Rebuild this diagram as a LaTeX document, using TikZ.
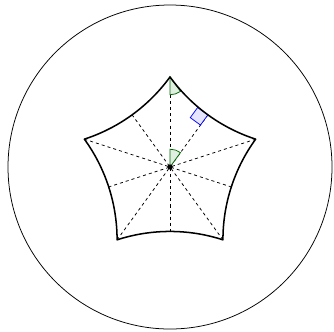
\documentclass[tikz,border=0pt]{standalone}
\usetikzlibrary{calc}
\tikzset{
  edge/.style={thick, line join=round},
  guide/.style={dash pattern=on 1.6pt off 1.6pt},
  anglemark/.style={draw=green!40!black, fill=green!50!black!12},
  rightmark/.style={draw=blue, fill=blue!10},
}
\begin{document}
\begin{tikzpicture}[scale=3]
\useasboundingbox (-1.0494,-1.0123) rectangle (1.0123,1.0309);
\coordinate (O) at (0,0);
\draw (O) circle[radius=1];
\foreach \k in {0,...,4}{
  \coordinate (v\k) at ({90-72*\k}:0.556);
  \coordinate (m\k) at ({54-72*\k}:0.398);
}
% guides
\foreach \a/\b in {0/2,1/3,2/4,3/0,4/1}{
  \draw[guide] (v\a) -- (m\b);
}
% marks
\draw[rightmark] (m0) -- ($(m0)+(234:0.078)$) -- ($(m0)+(234:0.078)+(144:0.078)$) -- ($(m0)+(144:0.078)$) -- cycle;
\draw[anglemark] (v0) -- ++(-90:0.11) arc[start angle=-90, end angle=-54, radius=0.11] -- cycle;
\draw[anglemark] (O) -- ++(90:0.11) arc[start angle=90, end angle=54, radius=0.11] -- cycle;
% pentagon
\draw[edge] (v0) arc[start angle=216, end angle=252, radius=1.0572]
  arc[start angle=144, end angle=180, radius=1.0572]
  arc[start angle=72, end angle=108, radius=1.0572]
  arc[start angle=0, end angle=36, radius=1.0572]
  arc[start angle=-72, end angle=-36, radius=1.0572] -- cycle;
\fill (O) circle[radius=0.016];
\end{tikzpicture}
\end{document}
